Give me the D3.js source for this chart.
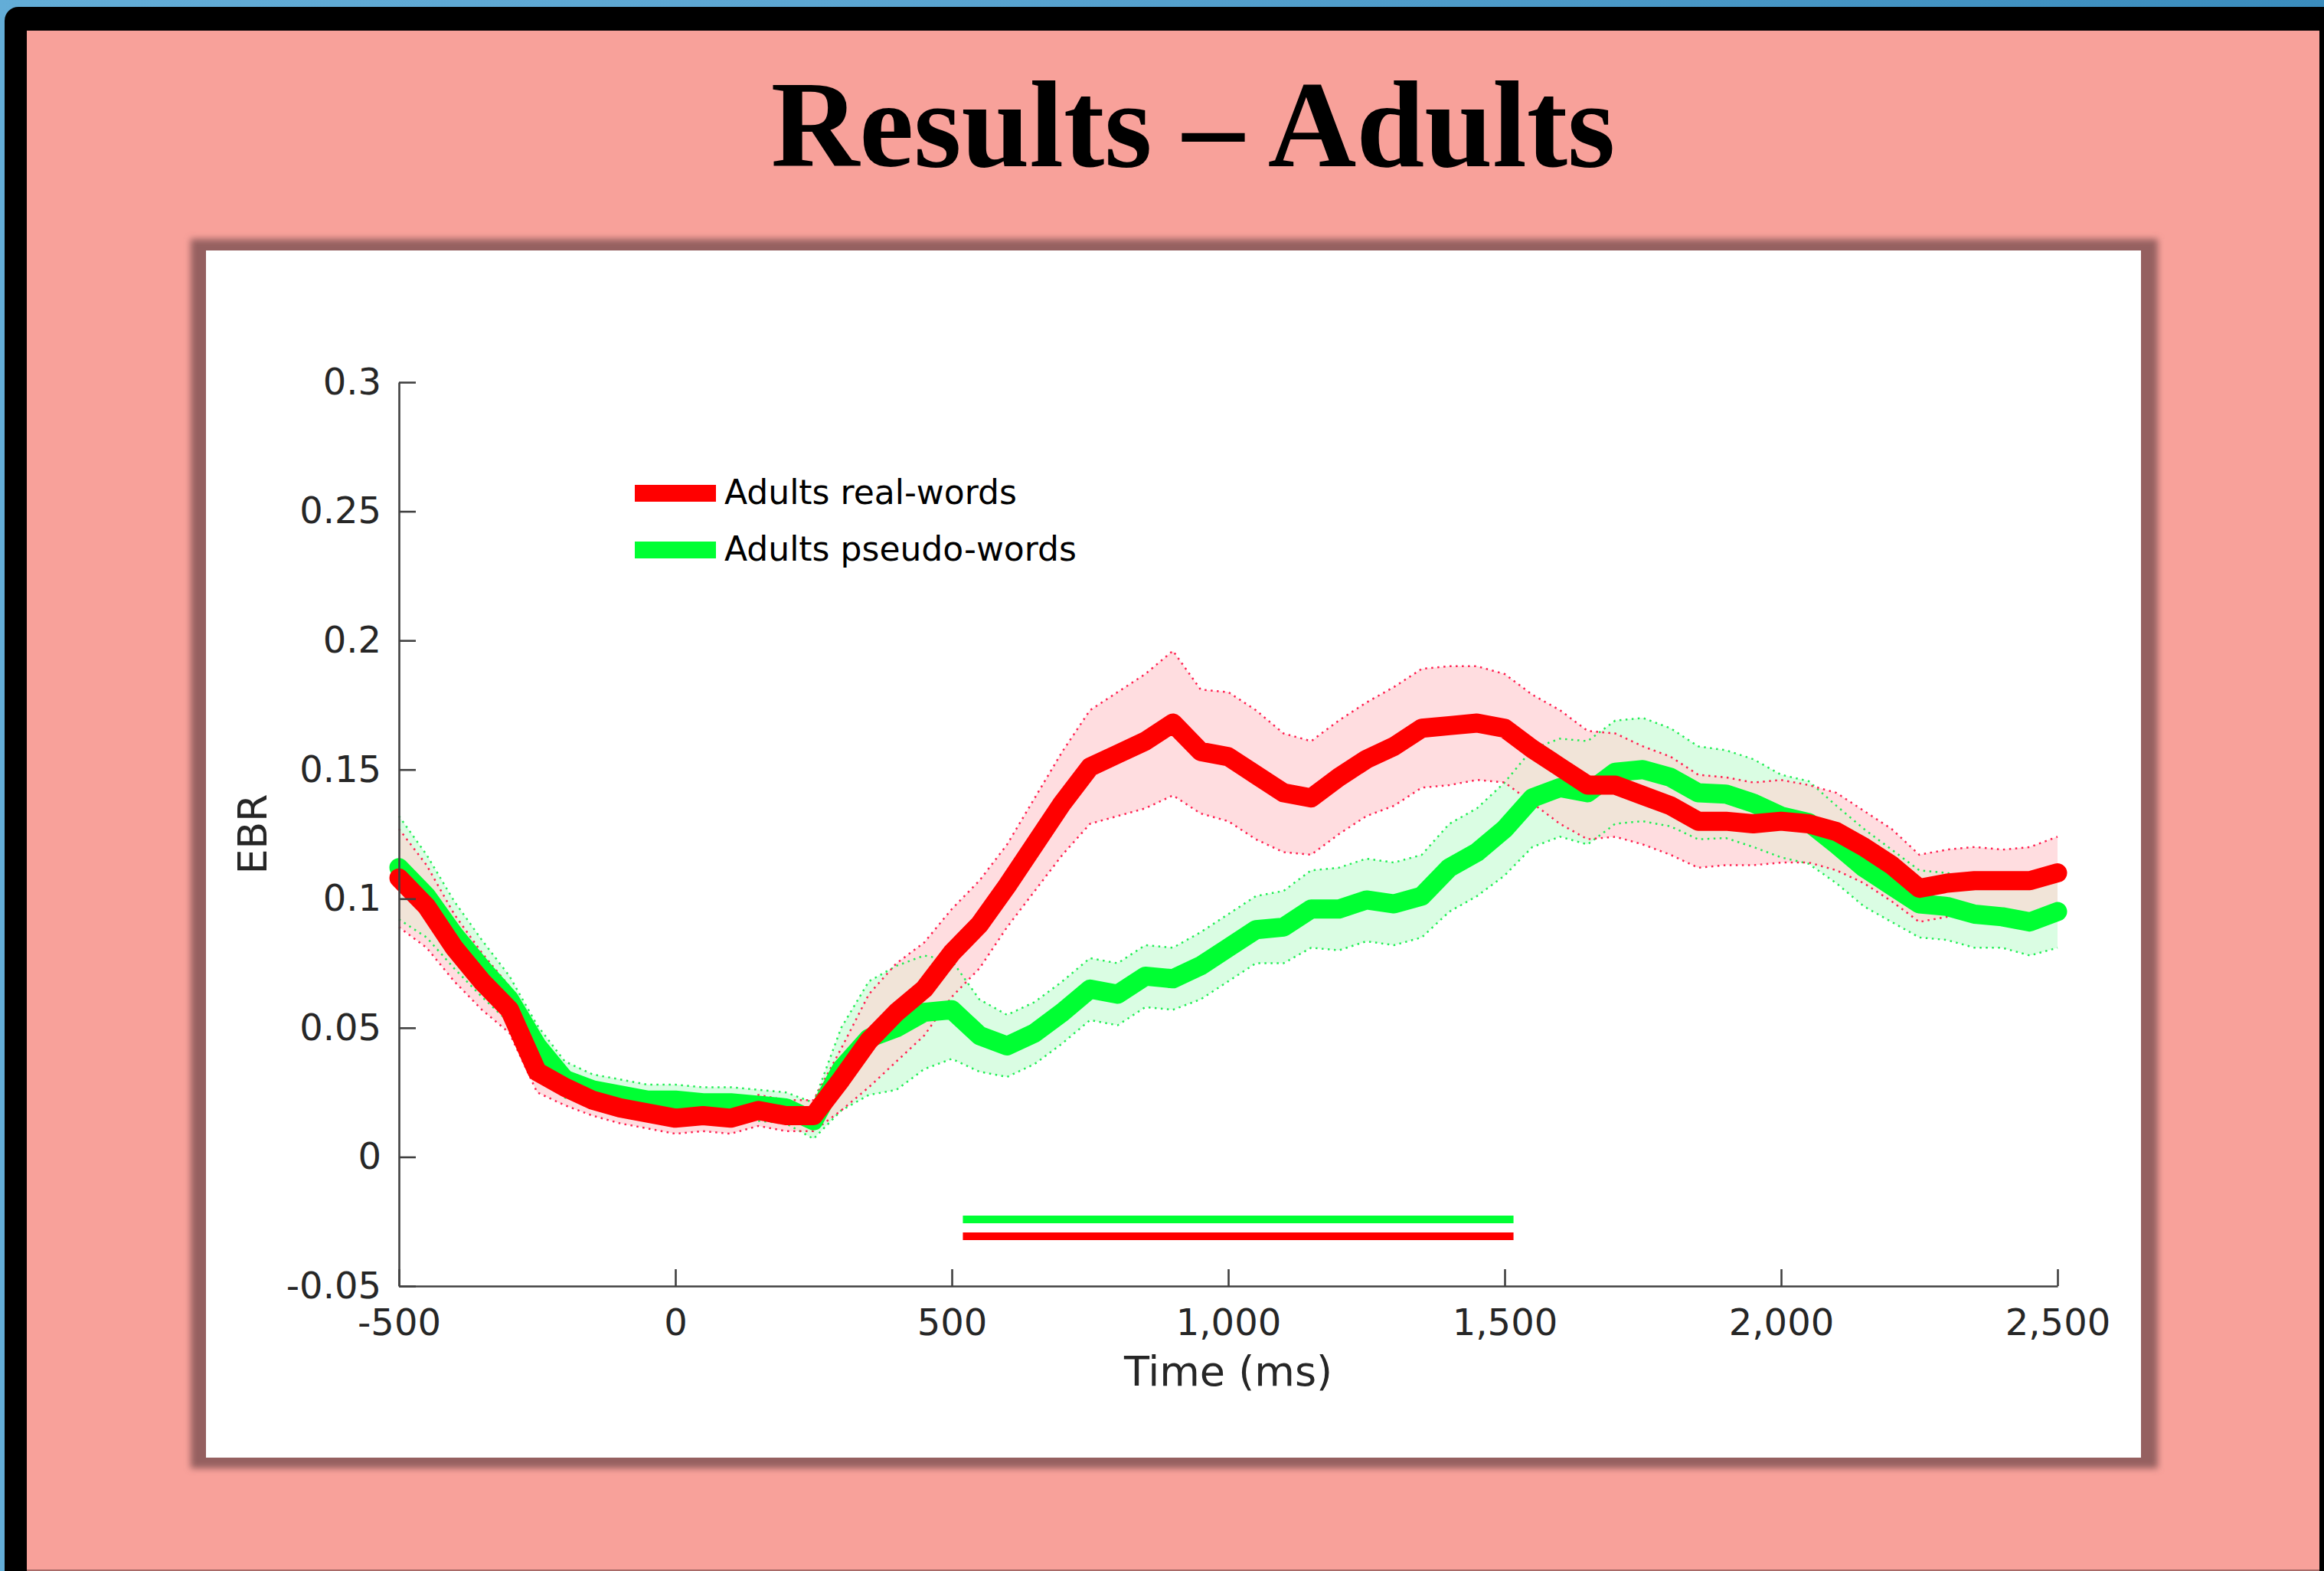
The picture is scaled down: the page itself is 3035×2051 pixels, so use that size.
<!DOCTYPE html>
<html><head><meta charset="utf-8">
<script src="https://cdn.jsdelivr.net/npm/d3@7"></script>
<style>html,body{margin:0;padding:0;overflow:hidden;background:#4d9fcc}</style>
</head><body>
<svg id="c" width="3035" height="2051" xmlns="http://www.w3.org/2000/svg"></svg>
<script>
// ---------------- data ----------------
const time = [-500,-450,-400,-350,-300,-250,-200,-150,-100,-50,0,50,100,150,200,250,300,350,400,450,500,550,600,650,700,750,800,850,900,950,1000,1050,1100,1150,1200,1250,1300,1350,1400,1450,1500,1550,1600,1650,1700,1750,1800,1850,1900,1950,2000,2050,2100,2150,2200,2250,2300,2350,2400,2450,2500];

const realWords = [0.108,0.097,0.081,0.068,0.057,0.033,0.027,0.022,0.019,0.017,0.015,0.016,0.015,0.018,0.016,0.016,0.030,0.045,0.056,0.065,0.079,0.090,0.105,0.121,0.137,0.151,0.156,0.161,0.168,0.157,0.155,0.148,0.141,0.139,0.147,0.154,0.159,0.166,0.167,0.168,0.166,0.158,0.151,0.144,0.144,0.140,0.136,0.130,0.130,0.129,0.130,0.129,0.126,0.120,0.113,0.104,0.106,0.107,0.107,0.107,0.110];
const realSem = [0.019,0.016,0.013,0.011,0.009,0.008,0.007,0.006,0.006,0.006,0.006,0.006,0.006,0.006,0.006,0.006,0.012,0.018,0.019,0.018,0.017,0.017,0.016,0.018,0.020,0.022,0.024,0.026,0.028,0.024,0.025,0.025,0.023,0.022,0.022,0.022,0.023,0.023,0.023,0.022,0.021,0.021,0.022,0.021,0.020,0.019,0.019,0.018,0.017,0.016,0.016,0.015,0.015,0.014,0.014,0.013,0.013,0.013,0.012,0.013,0.014];

const pseudoWords = [0.112,0.101,0.086,0.073,0.061,0.043,0.030,0.026,0.024,0.022,0.022,0.021,0.021,0.020,0.019,0.014,0.034,0.046,0.050,0.056,0.057,0.047,0.043,0.048,0.056,0.065,0.063,0.070,0.069,0.074,0.081,0.088,0.089,0.096,0.096,0.0995,0.098,0.101,0.112,0.118,0.127,0.139,0.143,0.141,0.149,0.150,0.147,0.141,0.1405,0.137,0.132,0.1295,0.121,0.112,0.105,0.098,0.097,0.094,0.093,0.091,0.095];
const pseudoSem = [0.020,0.016,0.013,0.011,0.009,0.008,0.007,0.006,0.006,0.006,0.006,0.006,0.006,0.006,0.006,0.007,0.016,0.022,0.024,0.022,0.019,0.014,0.012,0.012,0.012,0.012,0.012,0.012,0.012,0.013,0.013,0.013,0.014,0.015,0.016,0.016,0.016,0.016,0.017,0.017,0.018,0.019,0.019,0.020,0.020,0.020,0.019,0.018,0.017,0.017,0.016,0.016,0.015,0.015,0.014,0.013,0.013,0.013,0.012,0.013,0.014];

// significance windows (ms) and their drawing level (EBR units)
const sigPseudo = {start: 520, end: 1516, level: -0.0242};
const sigReal   = {start: 520, end: 1516, level: -0.0307};

const xTicks = [-500,0,500,1000,1500,2000,2500];
const xTickLabels = ["-500","0","500","1,000","1,500","2,000","2,500"];
const yTicks = [-0.05,0,0.05,0.1,0.15,0.2,0.25,0.3];
const yTickLabels = ["-0.05","0","0.05","0.1","0.15","0.2","0.25","0.3"];

const seriesNames = ["Adults real-words","Adults pseudo-words"];
const titleText = "Results \u2013 Adults";

// ---------------- drawing ----------------
const svg = d3.select("#c");
const defs = svg.append("defs");
const bg = defs.append("linearGradient").attr("id","bg").attr("x1","0").attr("x2","1").attr("y1","0").attr("y2","0");
bg.append("stop").attr("offset","0").attr("stop-color","#63add7");
bg.append("stop").attr("offset","0.35").attr("stop-color","#5ca6d2");
bg.append("stop").attr("offset","1").attr("stop-color","#3a8cbd");
defs.append("filter").attr("id","blur").attr("x","-5%").attr("y","-5%").attr("width","110%").attr("height","110%")
  .append("feGaussianBlur").attr("stdDeviation",4);

svg.append("rect").attr("width",3035).attr("height",2051).attr("fill","url(#bg)");
svg.append("rect").attr("x",6).attr("y",9).attr("width",3100).attr("height",2100).attr("rx",18).attr("fill","#000");
svg.append("rect").attr("x",35).attr("y",40).attr("width",2994).attr("height",2009).attr("fill","#f8a19a");
svg.append("rect").attr("x",35).attr("y",2049).attr("width",2994).attr("height",2).attr("fill","#a96b68");

// title
svg.append("text").attr("x",1558).attr("y",217).attr("text-anchor","middle")
  .attr("font-family","'Liberation Serif','Times New Roman',serif").attr("font-weight","bold")
  .attr("font-size",160).attr("fill","#000").text(titleText);

// panel with shadow
svg.append("rect").attr("x",249).attr("y",312).attr("width",2569).attr("height",1605)
  .attr("fill","#956160").attr("filter","url(#blur)");
svg.append("rect").attr("x",269).attr("y",327).attr("width",2527).attr("height",1576).attr("fill","#fff");

const x = d3.scaleLinear().domain([-500,2500]).range([521,2687]);
const y = d3.scaleLinear().domain([-0.05,0.3]).range([1679,499]);

const g = svg.append("g");
const rows = (m, s) => time.map((t,i)=>({t, m:m[i], s:s[i]}));
const realRows = rows(realWords, realSem);
const pseudoRows = rows(pseudoWords, pseudoSem);

const area = d3.area().x(d=>x(d.t)).y0(d=>y(d.m-d.s)).y1(d=>y(d.m+d.s));
const upper = d3.line().x(d=>x(d.t)).y(d=>y(d.m+d.s));
const lower = d3.line().x(d=>x(d.t)).y(d=>y(d.m-d.s));
const mean = d3.line().x(d=>x(d.t)).y(d=>y(d.m));

// bands: pseudo (green), real (pink), and their overlap (beige)
defs.append("clipPath").attr("id","pseudoClip").append("path").attr("d",area(pseudoRows));
g.append("path").attr("d",area(pseudoRows)).attr("fill","#dafde3");
g.append("path").attr("d",area(realRows)).attr("fill","#ffdde0");
g.append("path").attr("d",area(realRows)).attr("fill","#f1e4d8").attr("clip-path","url(#pseudoClip)");

[[pseudoRows,"#22ee55"],[realRows,"#ff2050"]].forEach(([r,c])=>{
  [upper,lower].forEach(fn=>{
    g.append("path").attr("d",fn(r)).attr("fill","none").attr("stroke",c)
      .attr("stroke-width",2.5).attr("stroke-dasharray","2.5 5.5");
  });
});

g.append("path").attr("d",mean(pseudoRows)).attr("fill","none").attr("stroke","#00ff33")
  .attr("stroke-width",25).attr("stroke-linejoin","round").attr("stroke-linecap","round");
g.append("path").attr("d",mean(realRows)).attr("fill","none").attr("stroke","#ff0000")
  .attr("stroke-width",25).attr("stroke-linejoin","round").attr("stroke-linecap","round");

// significance bars
[[sigPseudo,"#00ff33"],[sigReal,"#ff0000"]].forEach(([s,c])=>{
  g.append("line").attr("x1",x(s.start)).attr("x2",x(s.end)).attr("y1",y(s.level)).attr("y2",y(s.level))
    .attr("stroke",c).attr("stroke-width",10);
});

// axes
const axisColor = "#404040";
const xAxis = d3.axisBottom(x).tickValues(xTicks).tickFormat((d,i)=>xTickLabels[i]).tickSizeInner(-22).tickSizeOuter(0).tickPadding(0);
const yAxis = d3.axisLeft(y).tickValues(yTicks).tickFormat((d,i)=>yTickLabels[i]).tickSizeInner(-22).tickSizeOuter(0).tickPadding(23);

const gx = svg.append("g").attr("transform","translate(0,1679)").call(xAxis);
const gy = svg.append("g").attr("transform","translate(521,0)").call(yAxis);
[gx,gy].forEach(a=>{
  a.select(".domain").attr("stroke",axisColor).attr("stroke-width",2.6);
  a.selectAll(".tick line").attr("stroke",axisColor).attr("stroke-width",2.6);
  a.selectAll(".tick text").attr("fill","#262626").attr("font-family","'DejaVu Sans',sans-serif").attr("font-size",48);
});
gx.selectAll(".tick text").attr("dy",null).attr("y",64);

// axis labels
svg.append("text").attr("x",1604).attr("y",1809).attr("text-anchor","middle")
  .attr("font-family","'DejaVu Sans',sans-serif").attr("font-size",54).attr("fill","#262626").text("Time (ms)");
svg.append("text").attr("transform","translate(348,1089) rotate(-90)").attr("text-anchor","middle")
  .attr("font-family","'DejaVu Sans',sans-serif").attr("font-size",52).attr("fill","#262626").text("EBR");

// legend
const legColors = ["#ff0000","#00ff33"];
const legY = [633,707];
seriesNames.forEach((n,i)=>{
  svg.append("rect").attr("x",829).attr("y",legY[i]).attr("width",106).attr("height",22).attr("fill",legColors[i]);
  svg.append("text").attr("x",946).attr("y",legY[i]+25).attr("font-family","'DejaVu Sans',sans-serif")
    .attr("font-size",44).attr("fill","#000").text(n);
});
</script>
</body></html>
